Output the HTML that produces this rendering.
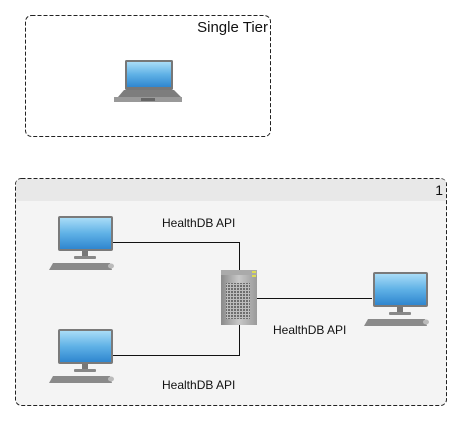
<!DOCTYPE html>
<html><head><style>
body{margin:0;background:#fff;width:462px;height:421px;overflow:hidden;font-family:"Liberation Sans",sans-serif}
</style></head><body>
<svg width="462" height="421" xmlns="http://www.w3.org/2000/svg" font-family="Liberation Sans, sans-serif">
<defs>
<linearGradient id="scr" x1="0" y1="0" x2="0" y2="1"><stop offset="0" stop-color="#a9dcf7"/><stop offset="0.5" stop-color="#5fb1e6"/><stop offset="1" stop-color="#2f86cf"/></linearGradient>
<linearGradient id="srv" x1="0" y1="0" x2="1" y2="0"><stop offset="0" stop-color="#8a8a8a"/><stop offset="0.5" stop-color="#c8c8c8"/><stop offset="1" stop-color="#9a9a9a"/></linearGradient>
<pattern id="grid" width="3" height="3" patternUnits="userSpaceOnUse"><rect width="3" height="3" fill="#bdbdbd"/><rect width="2" height="2" fill="#6e6e6e"/></pattern>
<g id="pc">
<rect x="0" y="0" width="55" height="35" rx="2" fill="#7a7a7a"/>
<rect x="2" y="2" width="51" height="31" fill="url(#scr)"/>
<rect x="24" y="35" width="6" height="6" fill="#777"/>
<rect x="16" y="40" width="22" height="3" rx="1" fill="#888"/>
<polygon points="-9,54 -5,47 52,47 54,54" fill="#8a8a8a"/>
<ellipse cx="53" cy="50" rx="3" ry="2.5" fill="#bbb"/>
</g>
</defs>
<rect x="25.5" y="15.5" width="245" height="121" rx="6" fill="#fff" stroke="#222" stroke-dasharray="4,2"/>
<text x="268" y="32" font-size="15" text-anchor="end" fill="#111">Single Tier</text>
<rect x="125" y="60" width="48" height="30" rx="1.5" fill="#777"/>
<rect x="127" y="62" width="44" height="25" fill="url(#scr)"/>
<polygon points="118,97 124,90 174,90 181,97" fill="#7d7d7d"/>
<rect x="114" y="97" width="68" height="5" fill="#999"/>
<rect x="141" y="98" width="14" height="3" fill="#666"/>

<rect x="15.5" y="178.5" width="431" height="227" rx="6" fill="#f4f4f4" stroke="#222" stroke-dasharray="4,2"/>
<path d="M16,201 V184 Q16,179 21,179 H441 Q446,179 446,184 V201 Z" fill="#e8e8e8"/>
<text x="443" y="195" font-size="14" text-anchor="end" fill="#111">1</text>

<g stroke="#111" fill="none" stroke-width="1">
<path d="M113,242.5 H239.5 V270"/>
<path d="M113,355.5 H239.5 V325"/>
<path d="M257,298.5 H372"/>
</g>
<use href="#pc" x="58" y="216"/>
<use href="#pc" x="58" y="329"/>
<use href="#pc" x="373" y="272"/>
<rect x="221" y="270" width="36" height="55" fill="url(#srv)"/>
<rect x="221" y="270" width="36" height="5" fill="#aaa"/>
<rect x="252" y="271" width="4" height="2" fill="#dd5"/><rect x="252" y="275" width="4" height="2" fill="#dd5"/>
<rect x="226" y="283" width="24" height="36" fill="url(#grid)"/>
<text x="162" y="227" font-size="12" fill="#111">HealthDB API</text>
<text x="273" y="334" font-size="12" fill="#111">HealthDB API</text>
<text x="162" y="389" font-size="12" fill="#111">HealthDB API</text>
</svg>
</body></html>
